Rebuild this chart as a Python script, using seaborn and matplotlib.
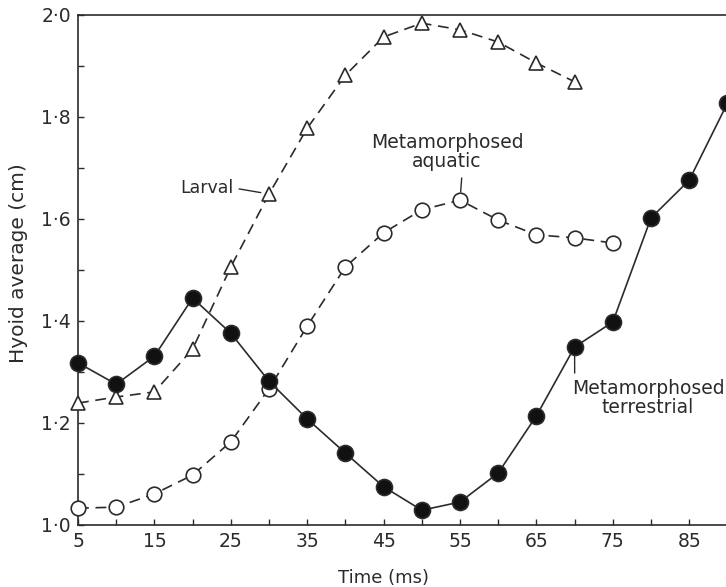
import matplotlib
matplotlib.use("Agg")
import matplotlib.pyplot as plt
import matplotlib.ticker as mticker
import seaborn as sns
import numpy as np
import pandas as pd

# ---- data ----
time_terrestrial = [5, 10, 15, 20, 25, 30, 35, 40, 45, 50, 55, 60, 65, 70, 75, 80, 85, 90]
hyoid_terrestrial = [1.318, 1.276, 1.331, 1.445, 1.376, 1.282, 1.208, 1.141, 1.075, 1.029,
                     1.045, 1.102, 1.214, 1.349, 1.398, 1.602, 1.676, 1.827]

time_larval = [5, 10, 15, 20, 25, 30, 35, 40, 45, 50, 55, 60, 65, 70]
hyoid_larval = [1.239, 1.251, 1.261, 1.345, 1.506, 1.649, 1.778, 1.882, 1.957, 1.984,
                1.971, 1.947, 1.906, 1.869]

time_aquatic = [5, 10, 15, 20, 25, 30, 35, 40, 45, 50, 55, 60, 65, 70, 75]
hyoid_aquatic = [1.033, 1.035, 1.061, 1.098, 1.163, 1.267, 1.390, 1.506, 1.573, 1.618,
                 1.637, 1.598, 1.569, 1.563, 1.553]

x_ticks = [5, 10, 15, 20, 25, 30, 35, 40, 45, 50, 55, 60, 65, 70, 75, 80, 85]
x_tick_labels = ["5", "", "15", "", "25", "", "35", "", "45", "", "55", "", "65", "", "75", "", "85"]
y_ticks = [1.0, 1.1, 1.2, 1.3, 1.4, 1.5, 1.6, 1.7, 1.8, 1.9, 2.0]
y_tick_labels = ["1·0", "", "1·2", "", "1·4", "", "1·6", "", "1·8", "", "2·0"]

label_larval = "Larval"
label_aquatic = "Metamorphosed\naquatic"
label_terrestrial = "Metamorphosed\nterrestrial"
xlabel = "Time (ms)"
ylabel = "Hyoid average (cm)"

# ---- style ----
sns.set_style("ticks")
plt.rcParams["font.family"] = ["DejaVu Sans"]

ink = "#2b2b2b"
fig = plt.figure(figsize=(7.26, 5.87), dpi=100)
ax = fig.add_axes([78 / 726, 1 - 525 / 587, 1 - 78 / 726, (525 - 15) / 587])

dash = (0, (6.5, 4))

df_l = pd.DataFrame({"t": time_larval, "h": hyoid_larval})
df_a = pd.DataFrame({"t": time_aquatic, "h": hyoid_aquatic})
df_t = pd.DataFrame({"t": time_terrestrial, "h": hyoid_terrestrial})

sns.lineplot(data=df_a, x="t", y="h", ax=ax, color=ink, linewidth=1.2, linestyle=dash,
             marker="o", markersize=10.5, markerfacecolor="white", markeredgecolor=ink,
             markeredgewidth=1.2, clip_on=False, zorder=3)
sns.lineplot(data=df_l, x="t", y="h", ax=ax, color=ink, linewidth=1.2, linestyle=dash,
             marker="^", markersize=10.5, markerfacecolor="white", markeredgecolor=ink,
             markeredgewidth=1.2, clip_on=False, zorder=4)
sns.lineplot(data=df_t, x="t", y="h", ax=ax, color=ink, linewidth=1.2, linestyle="-",
             marker="o", markersize=11.5, markerfacecolor="#111111", markeredgecolor=ink,
             markeredgewidth=1.2, clip_on=False, zorder=5)

ax.set_xlim(5, 5 + 648 / 7.64)
ax.set_ylim(1.0, 2.0)
ax.xaxis.set_major_locator(mticker.FixedLocator(x_ticks))
ax.xaxis.set_major_formatter(mticker.FixedFormatter(x_tick_labels))
ax.yaxis.set_major_locator(mticker.FixedLocator(y_ticks))
ax.yaxis.set_major_formatter(mticker.FixedFormatter(y_tick_labels))
ax.tick_params(direction="in", length=4, width=1, colors=ink, labelsize=13.5, pad=5)

for side in ["left", "bottom", "top"]:
    ax.spines[side].set_visible(True)
    ax.spines[side].set_color(ink)
    ax.spines[side].set_linewidth(1.2)
ax.spines["right"].set_visible(False)

ax.set_xlabel(xlabel, fontsize=13, color=ink)
ax.set_ylabel(ylabel, fontsize=14.5, color=ink)
ax.xaxis.set_label_coords((383 - 78) / 648, -(569 - 525) / 510)
ax.yaxis.set_label_coords(-(78 - 28) / 648, (525 - 263) / 510)

# ---- annotations ----
ax.annotate(label_larval, xy=(time_larval[5], hyoid_larval[5]), xytext=(25.3, 1.661),
            ha="right", va="center", fontsize=12.5, color=ink,
            arrowprops=dict(arrowstyle="-", color=ink, lw=1.0, shrinkA=2, shrinkB=6,
                            relpos=(1.0, 0.5)))
ax.annotate(label_aquatic, xy=(time_aquatic[10], hyoid_aquatic[10]), xytext=(53.3, 1.695),
            ha="center", va="bottom", multialignment="center", fontsize=13.5, color=ink,
            linespacing=1.0,
            arrowprops=dict(arrowstyle="-", color=ink, lw=1.0, shrinkA=3, shrinkB=6,
                            relpos=(0.6, 0.0)))
ax.annotate(label_terrestrial, xy=(time_terrestrial[13], hyoid_terrestrial[13]),
            xytext=(79.6, 1.286), ha="center", va="top", multialignment="center",
            fontsize=13.5, color=ink, linespacing=1.0,
            arrowprops=dict(arrowstyle="-", color=ink, lw=1.0, shrinkA=2, shrinkB=6,
                            relpos=(0.02, 1.0)))

fig.savefig("out.png", dpi=100)
